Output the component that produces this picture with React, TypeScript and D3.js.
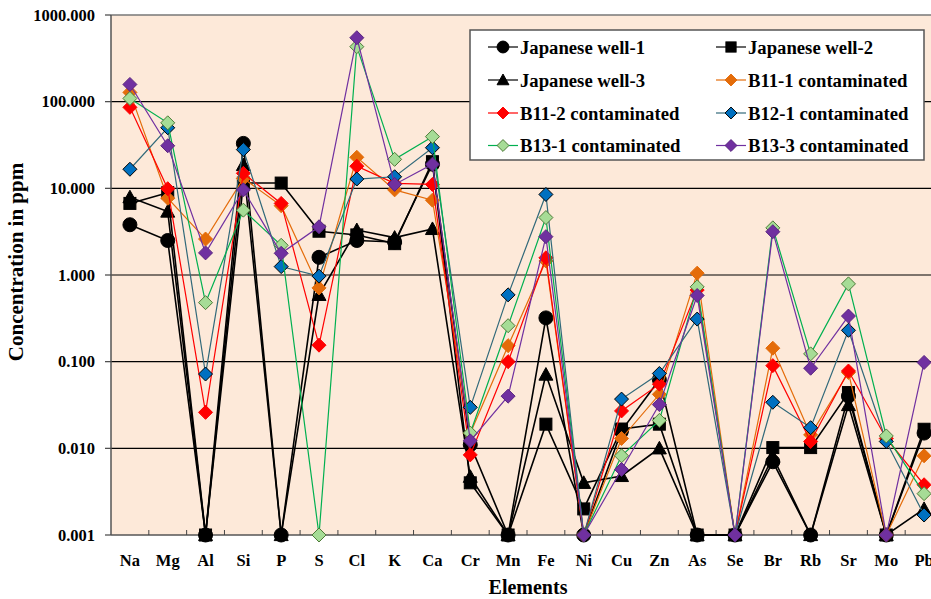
import React from 'react'
import * as d3 from 'd3'

const elements = ['Na', 'Mg', 'Al', 'Si', 'P', 'S', 'Cl', 'K', 'Ca', 'Cr', 'Mn', 'Fe', 'Ni', 'Cu', 'Zn', 'As', 'Se', 'Br', 'Rb', 'Sr', 'Mo', 'Pb']

const yTicks = [0.001, 0.01, 0.1, 1, 10, 100, 1000]

const seriesNames = [
  'Japanese well-1',
  'Japanese well-2',
  'Japanese well-3',
  'B11-1 contaminated',
  'B11-2 contaminated',
  'B12-1 contaminated',
  'B13-1 contaminated',
  'B13-3 contaminated',
]

const jw1 = [3.8, 2.5, 0.001, 33, 0.001, 1.6, 2.5, 2.4, 19, 0.011, 0.001, 0.32, 0.001, 0.016, 0.062, 0.001, 0.001, 0.007, 0.001, 0.04, 0.001, 0.015]
const jw2 = [6.7, 8.9, 0.001, 11.5, 11.5, 3.2, 2.9, 2.3, 20.3, 0.004, 0.001, 0.019, 0.002, 0.0167, 0.019, 0.001, 0.001, 0.0102, 0.0102, 0.044, 0.001, 0.0166]
const jw3 = [7.9, 5.4, 0.001, 18.6, 0.001, 0.59, 3.3, 2.7, 3.4, 0.0047, 0.001, 0.071, 0.004, 0.0048, 0.01, 0.001, 0.001, 0.008, 0.001, 0.0316, 0.001, 0.002]
const b111 = [128, 7.7, 2.6, 13, 6.3, 0.71, 22.8, 9.6, 7.3, 0.0149, 0.153, 1.45, 0.001, 0.013, 0.042, 1.05, 0.001, 0.143, 0.0143, 0.075, 0.001, 0.0082]
const b112 = [86, 9.9, 0.026, 14.9, 6.7, 0.155, 18, 11.4, 11.1, 0.0084, 0.1, 1.58, 0.001, 0.027, 0.055, 0.67, 0.001, 0.09, 0.012, 0.078, 0.013, 0.0038]
const b121 = [16.6, 50, 0.072, 28, 1.25, 0.97, 12.8, 13.6, 29.4, 0.0297, 0.59, 8.5, 0.001, 0.037, 0.073, 0.31, 0.001, 0.034, 0.0173, 0.23, 0.012, 0.0017]
const b131 = [109, 57, 0.48, 5.6, 2.2, 0.001, 431, 21.6, 39.5, 0.015, 0.26, 4.6, 0.001, 0.0082, 0.021, 0.73, 0.001, 3.5, 0.123, 0.79, 0.0139, 0.003]
const b133 = [158, 31, 1.8, 9.6, 1.78, 3.6, 547, 11.1, 19, 0.0122, 0.04, 2.77, 0.001, 0.0057, 0.032, 0.58, 0.001, 3.16, 0.084, 0.336, 0.001, 0.098]

const seriesValues = [jw1, jw2, jw3, b111, b112, b121, b131, b133]

const styles = [
  { line: '#000', width: 1.6, marker: 'circle', fill: '#000', stroke: '#000' },
  { line: '#000', width: 1.6, marker: 'square', fill: '#000', stroke: '#000' },
  { line: '#000', width: 1.6, marker: 'triangle', fill: '#000', stroke: '#000' },
  { line: '#E46C0A', width: 1.2, marker: 'diamond', fill: '#E46C0A', stroke: '#E46C0A' },
  { line: '#FF0000', width: 1.2, marker: 'diamond', fill: '#FF0000', stroke: '#FF0000' },
  { line: '#31697A', width: 1.2, marker: 'diamond', fill: '#0070C0', stroke: '#000' },
  { line: '#00B050', width: 1.2, marker: 'diamond', fill: '#A6DC96', stroke: '#4E7A38' },
  { line: '#7030A0', width: 1.2, marker: 'diamond', fill: '#7030A0', stroke: '#5A2580' },
]

const font = "'Liberation Serif', 'DejaVu Serif', serif"

const Marker = ({ kind, cx, cy, fill, stroke, scale = 1 }) => {
  if (kind === 'circle') return <circle cx={cx} cy={cy} r={7 * scale} fill={fill} stroke={stroke} />
  if (kind === 'square') {
    const s = 6 * scale
    return <rect x={cx - s} y={cy - s} width={2 * s} height={2 * s} fill={fill} stroke={stroke} />
  }
  if (kind === 'triangle') {
    const s = 7 * scale
    return <path d={`M${cx},${cy - s}L${cx + s},${cy + s * 0.8}L${cx - s},${cy + s * 0.8}Z`} fill={fill} stroke={stroke} />
  }
  const s = 7 * scale
  return <path d={`M${cx},${cy - s}L${cx + s},${cy}L${cx},${cy + s}L${cx - s},${cy}Z`} fill={fill} stroke={stroke} strokeWidth={1} />
}

const App = () => {
  const width = 931
  const height = 599
  const left = 111
  const right = 943
  const top = 15
  const bottom = 535

  const x = d3.scaleBand().domain(elements).range([left, right])
  const cx = (e) => x(e) + x.bandwidth() / 2
  const y = d3.scaleLog().domain([0.001, 1000]).range([bottom, top])
  const fmt = d3.format('.3f')
  const line = d3.line().x((d, i) => cx(elements[i])).y((d) => y(d))

  const legendX = [488, 716]
  const legendY = [47, 80, 113, 145.5]

  return (
    <svg width={width} height={height} style={{ position: 'absolute', left: 0, top: 0, background: '#fff', fontFamily: font }}>
      <rect x={left} y={top} width={right - left} height={bottom - top} fill="#FDE9D9" />
      {yTicks.slice(1).map((t) => (
        <line key={t} x1={left} x2={right} y1={y(t)} y2={y(t)} stroke={t === 1000 ? '#777' : '#000'} strokeWidth={t === 1000 ? 1.5 : 1.2} />
      ))}
      <line x1={left} x2={left} y1={top} y2={bottom} stroke="#555" strokeWidth={1.5} />
      <line x1={left} x2={right} y1={bottom} y2={bottom} stroke="#555" strokeWidth={1.5} />
      {yTicks.map((t) => (
        <g key={t}>
          <line x1={left - 6} x2={left} y1={y(t)} y2={y(t)} stroke="#444" strokeWidth={1.2} />
          <text x={95} y={y(t)} dy="0.35em" textAnchor="end" fontSize={16.5} fontWeight="bold" style={{ fontFamily: font }}>{fmt(t)}</text>
        </g>
      ))}
      {d3.range(1, elements.length).map((i) => (
        <line key={i} x1={left + i * x.bandwidth()} x2={left + i * x.bandwidth()} y1={bottom} y2={bottom - 5} stroke="#444" strokeWidth={1} />
      ))}
      {elements.map((e) => (
        <text key={e} x={cx(e)} y={566} textAnchor="middle" fontSize={16.5} fontWeight="bold" style={{ fontFamily: font }}>{e}</text>
      ))}
      <text x={528} y={594} textAnchor="middle" fontSize={20} fontWeight="bold" style={{ fontFamily: font }}>Elements</text>
      <text transform="translate(23,262) rotate(-90)" textAnchor="middle" fontSize={21} fontWeight="bold" style={{ fontFamily: font }}>Concentration in ppm</text>

      {seriesValues.map((vals, si) => (
        <g key={si}>
          <path d={line(vals)} fill="none" stroke={styles[si].line} strokeWidth={styles[si].width} />
          {vals.map((v, i) => (
            <Marker key={i} kind={styles[si].marker} cx={cx(elements[i])} cy={y(v)} fill={styles[si].fill} stroke={styles[si].stroke} />
          ))}
        </g>
      ))}

      <rect x={470} y={30} width={454} height={130} fill="#fff" stroke="#555" strokeWidth={1.5} />
      {seriesNames.map((name, i) => {
        const lx = legendX[i % 2]
        const ly = legendY[Math.floor(i / 2)]
        const s = styles[i]
        return (
          <g key={name}>
            <line x1={lx} x2={lx + 30} y1={ly} y2={ly} stroke={s.line} strokeWidth={1.2} />
            <Marker kind={s.marker} cx={lx + 15} cy={ly} fill={s.fill} stroke={s.stroke} scale={0.85} />
            <text x={lx + 32} y={ly} dy="0.35em" fontSize={18.7} fontWeight="bold" style={{ fontFamily: font }}>{name}</text>
          </g>
        )
      })}
    </svg>
  )
}

export default App
